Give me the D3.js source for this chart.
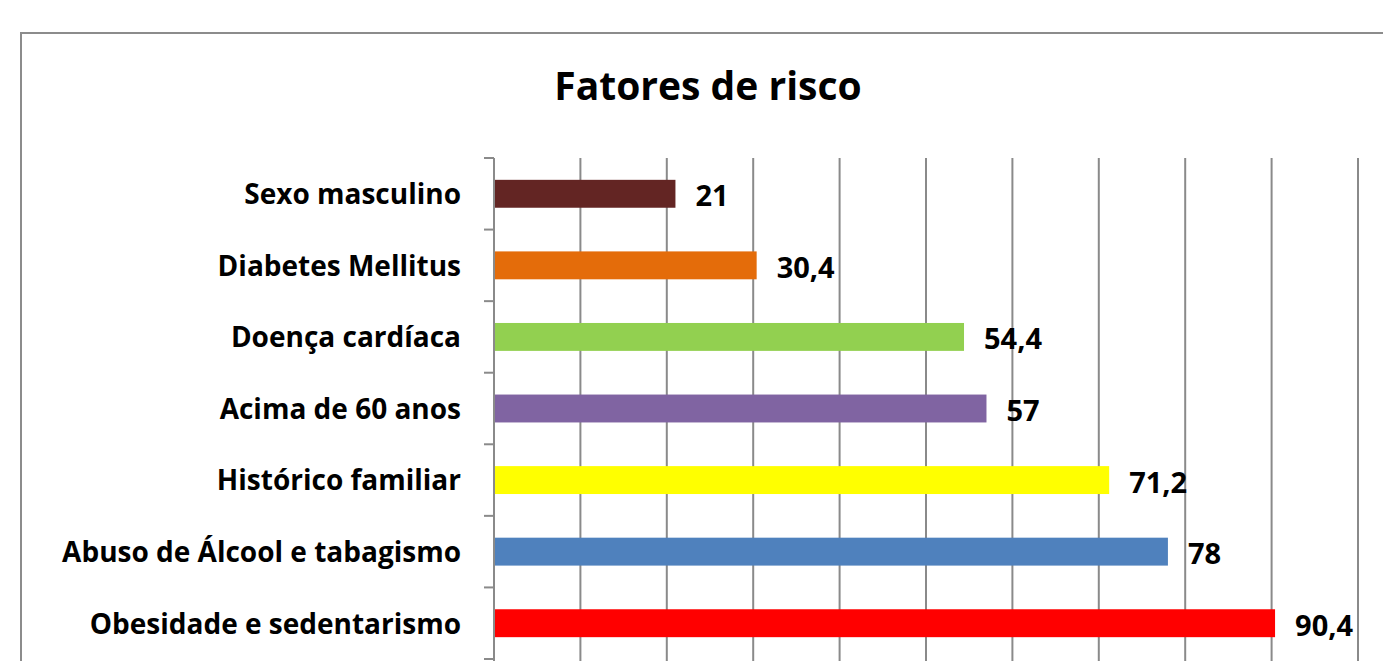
<!DOCTYPE html>
<html>
<head>
<meta charset="utf-8">
<title>Fatores de risco</title>
<script src="https://cdn.jsdelivr.net/npm/d3@7"></script>
<style>
    html, body {
        margin: 0;
        padding: 0;
        background: #ffffff;
        overflow: hidden;
    }
    text {
        font-family: "Open Sans", Lato, "DejaVu Sans", sans-serif;
        font-weight: bold;
        fill: #000000;
    }
</style>
</head>
<body>
<div id="chart"></div>
<script>
//****************************************************************************************
// Fatores de risco: horizontal bar chart
//****************************************************************************************

// Data
// ----
const categories = [
    "Sexo masculino",
    "Diabetes Mellitus",
    "Doença cardíaca",
    "Acima de 60 anos",
    "Histórico familiar",
    "Abuso de Álcool e tabagismo",
    "Obesidade e sedentarismo"
];
const values = [21, 30.4, 54.4, 57, 71.2, 78, 90.4];
const barColors = ["#632523", "#E46C0A", "#92D050", "#8064A2", "#FFFF00", "#4F81BD", "#FF0000"];
const xTicks = [0, 10, 20, 30, 40, 50, 60, 70, 80, 90, 100];
const title = "Fatores de risco";

// Dimensions
// ----------
const width = 1383,
    height = 661;
const plot = { left: 494, right: 1358, top: 158, bottom: 659 };
const gridColor = "#8a8a8a";

// Portuguese number format (decimal comma)
const ptBR = d3.formatLocale({ decimal: ",", thousands: ".", grouping: [3], currency: ["R$", ""] });
const fmt = ptBR.format("");

const data = categories.map((c, i) => ({ cat: c, value: values[i], color: barColors[i] }));

// Create svg
// ----------
const svg = d3.select("#chart").append("svg")
    .attr("xmlns", "http://www.w3.org/2000/svg")
    .attr("width", width)
    .attr("height", height);

// Chart area border (runs off right and bottom edges)
svg.append("rect")
    .attr("x", 21)
    .attr("y", 33)
    .attr("width", width + 50)
    .attr("height", height + 50)
    .attr("fill", "#ffffff")
    .attr("stroke", "#8c8c8c")
    .attr("stroke-width", 2);

// Title
svg.append("text")
    .attr("x", 708)
    .attr("y", 100)
    .attr("text-anchor", "middle")
    .style("font-size", "39px")
    .text(title);

// Scales
// ------
const x = d3.scaleLinear()
    .domain([0, 100])
    .range([plot.left, plot.right]);

const y = d3.scaleBand()
    .domain(categories)
    .range([plot.top, plot.bottom])
    .paddingInner(0.61)
    .paddingOuter(0.305);

// Gridlines
// ---------
svg.append("g")
    .attr("class", "grid")
    .selectAll("line")
    .data(xTicks.filter(t => t > 0))
    .join("line")
    .attr("x1", d => x(d))
    .attr("x2", d => x(d))
    .attr("y1", plot.top)
    .attr("y2", height + 2)
    .attr("stroke", gridColor)
    .attr("stroke-width", 2);

// Bars
// ----
svg.append("g")
    .attr("class", "bars")
    .selectAll("rect")
    .data(data)
    .join("rect")
    .attr("x", x(0))
    .attr("y", d => y(d.cat))
    .attr("width", d => x(d.value) - x(0))
    .attr("height", y.bandwidth())
    .attr("fill", d => d.color);

// Category axis
// -------------
const yAxis = svg.append("g")
    .attr("class", "y-axis")
    .attr("transform", `translate(${plot.left}, 0)`)
    .call(d3.axisLeft(y).tickSize(0).tickPadding(33));

yAxis.select(".domain")
    .attr("stroke", gridColor)
    .attr("stroke-width", 2)
    .attr("d", `M0,${plot.top}V${height + 2}`);

yAxis.selectAll(".tick text")
    .attr("dy", "0.37em")
    .style("font-size", "28px")
    .style("font-family", null);

// Tick marks on category boundaries
const step = y.step();
yAxis.append("g")
    .selectAll("line")
    .data(d3.range(categories.length + 1))
    .join("line")
    .attr("x1", -10)
    .attr("x2", 0)
    .attr("y1", i => plot.top + i * step)
    .attr("y2", i => plot.top + i * step)
    .attr("stroke", gridColor)
    .attr("stroke-width", 2);

// Value labels
// ------------
svg.append("g")
    .attr("class", "labels")
    .selectAll("text")
    .data(data)
    .join("text")
    .attr("x", d => x(d.value) + 20)
    .attr("y", d => y(d.cat) + y.bandwidth() / 2)
    .attr("dy", "0.43em")
    .style("font-size", "29px")
    .text(d => fmt(d.value));
</script>
</body>
</html>
